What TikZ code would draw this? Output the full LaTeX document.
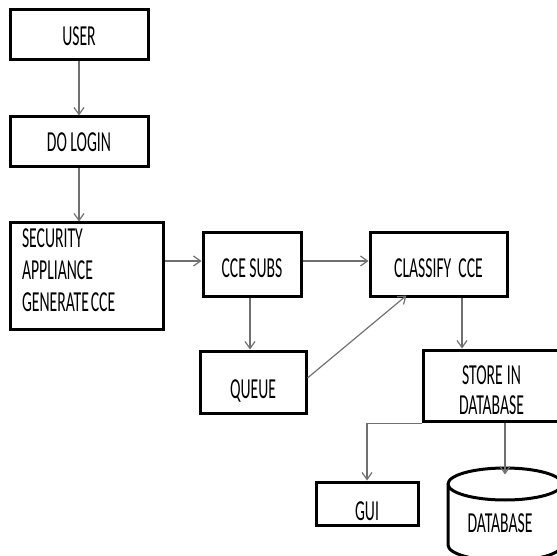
\documentclass[tikz,border=0pt]{standalone}
\usepackage{fontspec}
\usetikzlibrary{arrows.meta,positioning,calc}
\newfontfamily\boxfont[FakeStretch=0.54]{Carlito}
\definecolor{arrgray}{HTML}{707070}
\tikzset{
  box style/.style={rectangle, draw, line width=3pt, align=center,
    font=\boxfont\fontsize{29}{31}\selectfont, inner sep=0pt},
  low text/.style={text height=#1, text depth=0pt},
  arr style/.style={-{Straight Barb[length=7pt, width=10pt]}, line width=1.2pt, draw=arrgray}
}
\begin{document}
\begin{tikzpicture}[x=1pt, y=-1pt, node distance=54pt]
\useasboundingbox (0,0) rectangle (557,556);
\clip (0,0) rectangle (557,556);

\node[box style, low text=22pt, minimum width=138pt, minimum height=50pt] (user) at (79,35) {USER};
\node[box style, low text=20pt, minimum width=138pt, minimum height=50pt, below=of user] (login) {DO LOGIN};
\node[box style, minimum width=153pt, minimum height=106pt, text width=129pt, align=left,
  font=\boxfont\fontsize{29}{32}\selectfont,
  below right=53pt and 0pt of login.south west] (sec)
  {SECURITY\\APPLIANCE\\{\spaceskip=2pt GENERATE CCE}\rule[-12pt]{0pt}{12pt}};
\node[box style, low text=26pt, minimum width=98pt, minimum height=63pt] (subs) at (252,264.5) {CCE SUBS};
\node[box style, low text=26pt, minimum width=137pt, minimum height=63pt, right=66pt of subs] (classify) {CLASSIFY\ \ CCE};
\node[box style, low text=32pt, minimum width=106pt, minimum height=62pt] (queue) at (253,382) {QUEUE};
\node[box style, minimum width=137pt, minimum height=71pt, text width=137pt,
  font=\boxfont\fontsize{29}{30}\selectfont]
  (store) at (491.5,385.5) {\rule{0pt}{28pt}{\spaceskip=4pt STORE IN}\\DATABASE};
\node[box style, low text=34pt, minimum width=102pt, minimum height=43pt] (gui) at (367,503.5) {GUI};

% cylinder for the database
\node[box style, draw=none, minimum width=114pt, minimum height=16pt] (db) at (505,484) {};
\draw[line width=3pt] (448,484) -- (448,545) arc[start angle=180, end angle=360, x radius=57, y radius=-16]
  -- (562,484) arc[start angle=0, end angle=-360, x radius=57, y radius=-16];
\node[box style, draw=none] (dbtext) at (500,523) {DATABASE};

\draw[arr style] (user) -- (login);
\draw[arr style] (login.south) -- (login.south |- sec.north);
\draw[arr style] (sec.east |- 0,261) -- (subs.west |- 0,261);
\draw[arr style] (subs.east |- 0,261) -- (classify.west |- 0,261);
\draw[arr style] ([xshift=-2pt]subs.south) -- ([xshift=-2pt]subs.south |- queue.north);
\draw[arr style] ([yshift=4pt]queue.east) -- ([xshift=-32pt, yshift=2pt]classify.south);
\draw[arr style] ([xshift=23.5pt]classify.south) -- ([xshift=23.5pt]classify.south |- store.north);
\draw[arr style] ([yshift=-1pt]store.south west) -| (gui.north);
\draw[arr style] (store.south -| db.north) -- (db.north);

\end{tikzpicture}
\end{document}
